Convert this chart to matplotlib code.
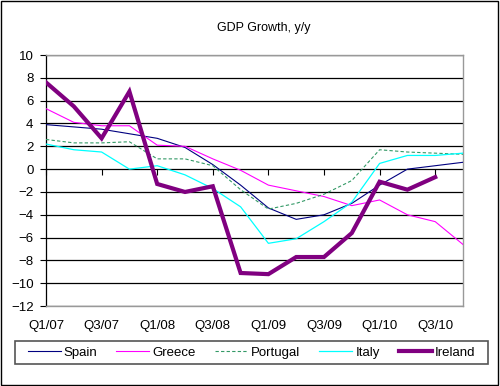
import matplotlib
matplotlib.use("Agg")
import matplotlib.pyplot as plt
from matplotlib.patches import Rectangle

quarters = ["Q1/07", "Q2/07", "Q3/07", "Q4/07", "Q1/08", "Q2/08", "Q3/08", "Q4/08",
            "Q1/09", "Q2/09", "Q3/09", "Q4/09", "Q1/10", "Q2/10", "Q3/10", "Q4/10"]
spain = [3.9, 3.7, 3.5, 3.1, 2.7, 1.9, 0.4, -1.4, -3.4, -4.4, -4.0, -3.0, -1.4, 0.0, 0.3, 0.6]
greece = [5.3, 4.1, 3.8, 3.8, 2.1, 2.0, 0.9, -0.1, -1.4, -1.9, -2.4, -3.2, -2.7, -4.0, -4.6, -6.6]
portugal = [2.6, 2.3, 2.3, 2.4, 0.9, 0.9, 0.3, -1.8, -3.5, -3.0, -2.2, -1.0, 1.7, 1.5, 1.4, 1.3]
italy = [2.2, 1.7, 1.5, 0.0, 0.3, -0.5, -1.7, -3.3, -6.5, -6.1, -4.6, -2.9, 0.5, 1.2, 1.2, 1.4]
ireland = [7.6, 5.5, 2.7, 6.8, -1.3, -2.0, -1.5, -9.1, -9.2, -7.7, -7.7, -5.6, -1.1, -1.8, -0.7]

plt.rcParams['font.family'] = ['Liberation Sans', 'DejaVu Sans']

fig = plt.figure(figsize=(5.0, 3.86), dpi=100)
ax = fig.add_axes([0.092, 0.207, 0.834, 0.6505])

x_all = list(range(len(quarters)))
ax.plot(x_all, spain, color='#000080', lw=0.8, label='Spain', zorder=3)
ax.plot(x_all, greece, color='#FF00FF', lw=0.8, label='Greece', zorder=3)
ax.plot(x_all, portugal, color='#339966', lw=0.8, ls=(0, (3, 2)), label='Portugal', zorder=3)
ax.plot(x_all, italy, color='#00FFFF', lw=0.9, label='Italy', zorder=3)
ax.plot(x_all[:len(ireland)], ireland, color='#800080', lw=3.0, label='Ireland', zorder=4,
        solid_joinstyle='miter')

ax.set_xlim(0, len(quarters) - 1)
ax.set_ylim(-12, 10)
ax.set_yticks(range(-12, 11, 2))
ax.yaxis.grid(True, color='black', lw=0.9)
ax.set_axisbelow(True)

ax.set_xticks(x_all[::2])
ax.set_xticklabels(quarters[::2], fontsize=9.5)
ax.tick_params(axis='x', length=0, pad=10)
ax.tick_params(axis='y', direction='out', length=4, width=0.8, labelsize=9.5, pad=5)

for s in ['top', 'right', 'bottom']:
    ax.spines[s].set_color('#999999')
    ax.spines[s].set_linewidth(1.0)
ax.spines['left'].set_color('black')
ax.spines['left'].set_linewidth(0.9)

# x axis crossing at zero with tick marks
sec = ax.secondary_xaxis(12 / 22)
sec.set_xticks(x_all[::2])
sec.tick_params(axis='x', direction='out', length=4, width=0.8, labelbottom=False,
                labeltop=False, bottom=True, top=False)
sec.spines['bottom'].set_visible(False)
sec.spines['top'].set_visible(False)
sec.xaxis.set_ticks_position('bottom')
sec.set_xticklabels([])

fig.text(0.528, 0.927, 'GDP Growth, y/y', ha='center', va='center', fontsize=9)

leg = fig.legend(loc='center', bbox_to_anchor=(0.503, 0.087), ncol=5, fontsize=9.5,
                 frameon=False, handlelength=2.5, handletextpad=0.23, columnspacing=1.45)

fig.patches.append(Rectangle((0.03, 0.057), 0.946, 0.0596, transform=fig.transFigure,
                             fill=False, edgecolor='#555555', lw=1.2))
fig.patches.append(Rectangle((0.002, 0.003), 0.994, 0.994, transform=fig.transFigure,
                             fill=False, edgecolor='black', lw=1.0))

fig.savefig('out.png', dpi=100)
